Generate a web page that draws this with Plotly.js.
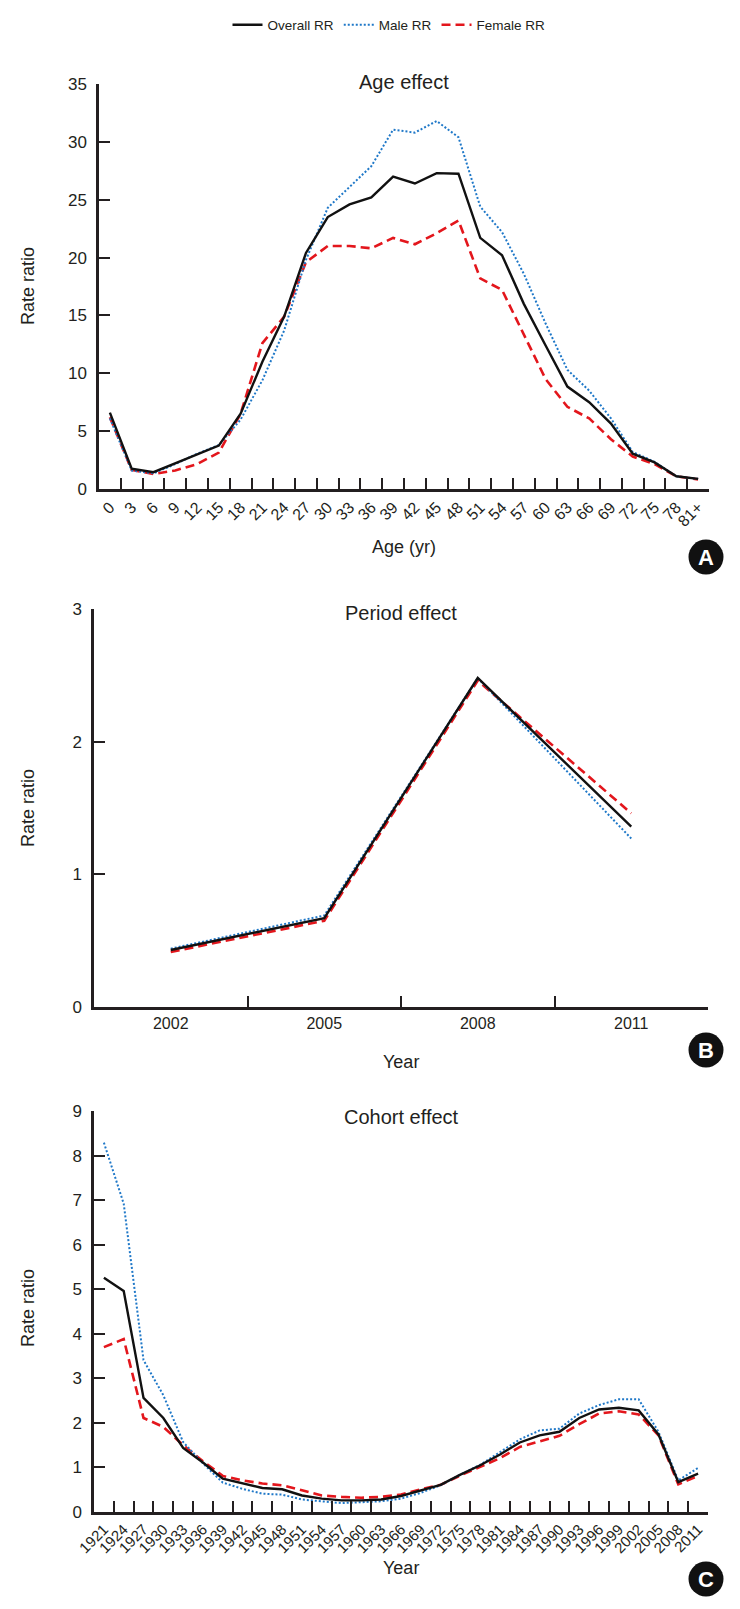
<!DOCTYPE html>
<html>
<head>
<meta charset="utf-8">
<script src="https://cdn.plot.ly/plotly-3.0.1.min.js"></script>
<style>
  html, body { margin: 0; padding: 0; background: #ffffff; }
  #chart { width: 740px; height: 1609px; }
</style>
</head>
<body>
<div id="chart"></div>
<script>
// ---------------- Data ----------------
const ageLabels = ['0','3','6','9','12','15','18','21','24','27','30','33','36','39','42','45','48','51','54','57','60','63','66','69','72','75','78','81+'];
const ageOverall = [6.6, 1.75, 1.45, 2.2, 2.95, 3.75, 6.5, 11.0, 14.9, 20.4, 23.5, 24.6, 25.2, 27.0, 26.4, 27.3, 27.25, 21.7, 20.2, 16.0, 12.4, 8.85, 7.5, 5.65, 3.05, 2.3, 1.1, 0.88];
const ageMale    = [6.1, 1.6, 1.35, 2.15, 3.05, 3.8, 6.0, 9.4, 13.7, 19.8, 24.3, 26.1, 27.9, 31.05, 30.8, 31.8, 30.4, 24.4, 22.2, 18.6, 14.3, 10.3, 8.5, 6.1, 3.2, 2.35, 1.1, 0.88];
const ageFemale  = [6.2, 1.65, 1.3, 1.6, 2.15, 3.15, 6.5, 12.6, 14.9, 19.6, 21.0, 21.0, 20.8, 21.7, 21.15, 22.1, 23.2, 18.2, 17.2, 13.4, 9.5, 7.1, 6.1, 4.3, 2.8, 2.15, 1.1, 0.83];

const periodLabels = ['2002','2005','2008','2011'];
const periodOverall = [0.43, 0.67, 2.48, 1.36];
const periodMale    = [0.44, 0.69, 2.48, 1.27];
const periodFemale  = [0.415, 0.65, 2.46, 1.46];

const cohortLabels = ['1921','1924','1927','1930','1933','1936','1939','1942','1945','1948','1951','1954','1957','1960','1963','1966','1969','1972','1975','1978','1981','1984','1987','1990','1993','1996','1999','2002','2005','2008','2011'];
const cohortOverall = [5.26, 4.96, 2.56, 2.11, 1.44, 1.11, 0.75, 0.64, 0.54, 0.51, 0.37, 0.30, 0.26, 0.26, 0.28, 0.36, 0.49, 0.61, 0.84, 1.05, 1.29, 1.56, 1.72, 1.80, 2.11, 2.30, 2.34, 2.28, 1.74, 0.67, 0.86];
const cohortMale    = [8.29, 6.92, 3.41, 2.62, 1.57, 1.09, 0.66, 0.52, 0.41, 0.39, 0.28, 0.24, 0.20, 0.22, 0.24, 0.30, 0.43, 0.60, 0.84, 1.06, 1.35, 1.63, 1.83, 1.87, 2.21, 2.40, 2.53, 2.53, 1.80, 0.71, 0.99];
const cohortFemale  = [3.70, 3.88, 2.11, 1.91, 1.50, 1.14, 0.81, 0.71, 0.64, 0.60, 0.49, 0.37, 0.34, 0.32, 0.34, 0.39, 0.51, 0.61, 0.82, 1.01, 1.21, 1.46, 1.59, 1.71, 1.97, 2.21, 2.26, 2.19, 1.72, 0.62, 0.81];

const seriesNames = ['Overall RR', 'Male RR', 'Female RR'];

// ---------------- Styles ----------------
const W = 740, H = 1609;
const INK = '#231f20';
const FONT = 'Liberation Sans, Arial, Helvetica, sans-serif';
const styleOverall = {color: '#111111', width: 2.4, dash: 'solid'};
const styleMale    = {color: '#1f78c8', width: 2, dash: '2px,2px'};
const styleFemale  = {color: '#e3161c', width: 2.6, dash: '9px,5px'};

function px(x) { return x / W; }
function py(y) { return 1 - y / H; }

function panelTraces(xs, ov, ma, fe, xa, ya, legend) {
  return [
    {x: xs, y: fe, xaxis: xa, yaxis: ya, type: 'scatter', mode: 'lines', name: seriesNames[2],
     line: styleFemale, legendgroup: 'f', showlegend: legend, legendrank: 3},
    {x: xs, y: ma, xaxis: xa, yaxis: ya, type: 'scatter', mode: 'lines', name: seriesNames[1],
     line: styleMale, legendgroup: 'm', showlegend: legend, legendrank: 2},
    {x: xs, y: ov, xaxis: xa, yaxis: ya, type: 'scatter', mode: 'lines', name: seriesNames[0],
     line: styleOverall, legendgroup: 'o', showlegend: legend, legendrank: 1}
  ];
}

const traces = [].concat(
  panelTraces(ageLabels, ageOverall, ageMale, ageFemale, 'x', 'y', true),
  panelTraces(periodLabels, periodOverall, periodMale, periodFemale, 'x2', 'y2', false),
  panelTraces(cohortLabels, cohortOverall, cohortMale, cohortFemale, 'x3', 'y3', false)
);

function xAxis(domain, anchor, cats, angle, fsize) {
  return {
    domain: domain, anchor: anchor, type: 'category',
    categoryorder: 'array', categoryarray: cats,
    range: [-0.5, cats.length - 0.5],
    tickmode: 'linear', tick0: 0, dtick: 1,
    tickson: 'boundaries', ticks: 'inside', ticklen: 11, tickwidth: 1.5, tickcolor: INK,
    showline: true, linewidth: 2.5, linecolor: INK,
    showgrid: false, zeroline: false, tickangle: angle,
    tickfont: {family: FONT, size: fsize, color: INK},
    fixedrange: true
  };
}
function yAxis(domain, anchor, range, dtick) {
  return {
    domain: domain, anchor: anchor, range: range, dtick: dtick, tick0: 0,
    ticks: 'inside', ticklen: 11, tickwidth: 1.5, tickcolor: INK,
    showline: true, linewidth: 2.5, linecolor: INK,
    showgrid: false, zeroline: false,
    tickfont: {family: FONT, size: 17, color: INK},
    ticklabelstandoff: 6,
    fixedrange: true
  };
}

function textAnn(text, x, y, size, angle) {
  return {text: text, xref: 'paper', yref: 'paper', x: px(x), y: py(y),
          xanchor: 'center', yanchor: 'middle', showarrow: false,
          textangle: angle || 0, font: {family: FONT, size: size, color: INK}};
}
function letterAnn(text, x, y) {
  return {text: '<b>' + text + '</b>', xref: 'paper', yref: 'paper', x: px(x), y: py(y),
          xanchor: 'center', yanchor: 'middle', showarrow: false,
          font: {family: FONT, size: 22, color: '#ffffff'}};
}
function circle(x, y, r) {
  return {type: 'circle', xref: 'paper', yref: 'paper',
          x0: px(x - r), x1: px(x + r), y0: py(y + r), y1: py(y - r),
          fillcolor: '#111111', line: {width: 0}};
}

const layout = {
  width: W, height: H,
  margin: {l: 0, r: 0, t: 0, b: 0},
  paper_bgcolor: '#ffffff', plot_bgcolor: '#ffffff',
  font: {family: FONT, color: INK},
  showlegend: true,
  legend: {orientation: 'h', x: px(389), xanchor: 'center', y: py(25), yanchor: 'middle',
           font: {family: FONT, size: 13.5, color: INK}, bgcolor: 'rgba(0,0,0,0)'},
  xaxis:  xAxis([px(99), px(709)], 'y', ageLabels, -45, 16),
  yaxis:  yAxis([py(489), py(84)], 'x', [0, 35], 5),
  xaxis2: xAxis([px(94), px(708)], 'y2', periodLabels, 0, 16),
  yaxis2: yAxis([py(1007), py(609)], 'x2', [0, 3], 1),
  xaxis3: xAxis([px(94), px(708)], 'y3', cohortLabels, -45, 15),
  yaxis3: yAxis([py(1512), py(1111)], 'x3', [0, 9], 1),
  annotations: [
    textAnn('Age effect', 404, 82, 20),
    textAnn('Rate ratio', 28, 286, 18, -90),
    textAnn('Age (yr)', 404, 547, 18),
    textAnn('Period effect', 401, 613, 20),
    textAnn('Rate ratio', 28, 808, 18, -90),
    textAnn('Year', 401, 1062, 18),
    textAnn('Cohort effect', 401, 1117, 20),
    textAnn('Rate ratio', 28, 1308, 18, -90),
    textAnn('Year', 401, 1568, 18),
    letterAnn('A', 706, 557),
    letterAnn('B', 706, 1050),
    letterAnn('C', 706, 1579)
  ],
  shapes: [circle(706, 557, 17.5), circle(706, 1050, 17.5), circle(706, 1579, 17.5)]
};

Plotly.newPlot('chart', traces, layout, {displayModeBar: false, responsive: false});
</script>
</body>
</html>
